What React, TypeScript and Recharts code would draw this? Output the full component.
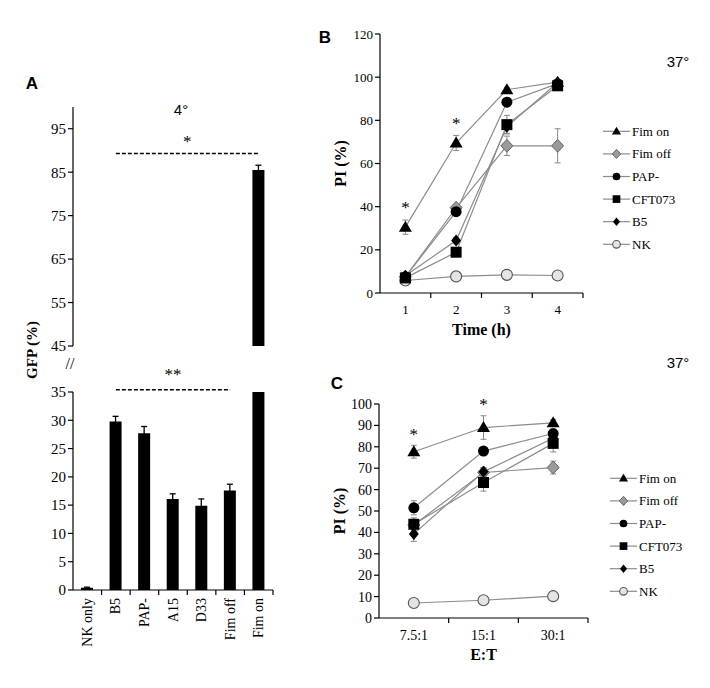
import React from "react";
import {
  BarChart,
  Bar,
  LineChart,
  Line,
  XAxis,
  YAxis,
  ErrorBar,
  ReferenceLine,
  ReferenceDot,
  Legend,
} from "recharts";

const SERIF = '"Liberation Serif", "Times New Roman", serif';
const SANS = '"Liberation Sans", Arial, sans-serif';
const TICK_SIZE = 6;
const LINE_GREY = "#8c8c8c";

// Panel A: GFP (%) at 4°
const gfpStrains = ["NK only", "B5", "PAP-", "A15", "D33", "Fim off", "Fim on"];
const gfpValues = [0.4, 29.8, 27.7, 16.1, 14.9, 17.6, 85.5];
const gfpErrors = [0.1, 0.9, 1.2, 0.9, 1.2, 1.1, 1.1];
const gfpUpperTicks = [45, 55, 65, 75, 85, 95];
const gfpLowerTicks = [0, 5, 10, 15, 20, 25, 30, 35];
const GFP_BREAK = 45;

// Panel B: PI (%) over time at 37°
const hours = [1, 2, 3, 4];
const fimOnB = [30.5, 69.5, 94.2, 97.7];
const fimOnBErr = [3.3, 3.5, 1, 0.5];
const fimOffB = [7.5, 39.5, 68.2, 68.2];
const fimOffBErr = [1, 1.5, 4.5, 7.9];
const papB = [7.5, 37.7, 88.4, 97];
const papBErr = [1, 1.5, 1.5, 1];
const cftB = [7, 18.9, 78, 96];
const cftBErr = [1, 1.5, 4.3, 1];
const b5B = [8, 24.3, 77, 97.5];
const b5BErr = [1, 1.5, 3, 1];
const nkB = [5.8, 7.7, 8.4, 8.1];
const nkBErr = [0.5, 0.5, 0.6, 0.5];
const piTicksB = [0, 20, 40, 60, 80, 100, 120];
const starsB = [
  { x: 1, y: 40 },
  { x: 2, y: 79 },
];

// Panel C: PI (%) by E:T ratio at 37°
const ratios = ["7.5:1", "15:1", "30:1"];
const fimOnC = [77.7, 89, 91.2];
const fimOnCErr = [3, 5.5, 1.5];
const fimOffC = [43.5, 68, 70.3];
const fimOffCErr = [2, 2, 3];
const papC = [51.5, 78, 86.2];
const papCErr = [3.3, 2, 2];
const cftC = [43.8, 63.3, 81.6];
const cftCErr = [3, 4, 4];
const b5C = [39.3, 68.3, 84];
const b5CErr = [3.5, 2, 2];
const nkC = [7, 8.3, 10.2];
const nkCErr = [0.5, 0.5, 0.5];
const piTicksC = [0, 10, 20, 30, 40, 50, 60, 70, 80, 90, 100];
const starsC = [
  { x: "7.5:1", y: 86 },
  { x: "15:1", y: 100 },
];

type Kind = "triangle" | "diamondGrey" | "circle" | "square" | "diamond" | "circleLight";

interface Series {
  key: string;
  name: string;
  kind: Kind;
  values: number[];
  errors: number[];
}

const seriesB: Series[] = [
  { key: "fimOn", name: "Fim on", kind: "triangle", values: fimOnB, errors: fimOnBErr },
  { key: "fimOff", name: "Fim off", kind: "diamondGrey", values: fimOffB, errors: fimOffBErr },
  { key: "pap", name: "PAP-", kind: "circle", values: papB, errors: papBErr },
  { key: "cft", name: "CFT073", kind: "square", values: cftB, errors: cftBErr },
  { key: "b5", name: "B5", kind: "diamond", values: b5B, errors: b5BErr },
  { key: "nk", name: "NK", kind: "circleLight", values: nkB, errors: nkBErr },
];

const seriesC: Series[] = [
  { key: "fimOn", name: "Fim on", kind: "triangle", values: fimOnC, errors: fimOnCErr },
  { key: "fimOff", name: "Fim off", kind: "diamondGrey", values: fimOffC, errors: fimOffCErr },
  { key: "pap", name: "PAP-", kind: "circle", values: papC, errors: papCErr },
  { key: "cft", name: "CFT073", kind: "square", values: cftC, errors: cftCErr },
  { key: "b5", name: "B5", kind: "diamond", values: b5C, errors: b5CErr },
  { key: "nk", name: "NK", kind: "circleLight", values: nkC, errors: nkCErr },
];

// drawn back to front
const drawOrder = ["fimOff", "nk", "b5", "cft", "pap", "fimOn"];

const gfpRows = gfpStrains.map((name, i) => ({
  name,
  gfp: gfpValues[i],
  gfpUpper: gfpValues[i] >= GFP_BREAK ? gfpValues[i] : null,
  gfpErr: gfpErrors[i],
}));

function buildRows(cats: (string | number)[], catKey: string, series: Series[]) {
  return cats.map((c, i) => {
    const row: Record<string, any> = { [catKey]: c };
    series.forEach((s) => {
      row[s.key] = s.values[i];
      row[`${s.key}Err`] = s.errors[i];
    });
    return row;
  });
}

const rowsB = buildRows(hours, "t", seriesB);
const rowsC = buildRows(ratios, "ratio", seriesC);

function Marker({ kind, cx, cy, s = 1 }: { kind: Kind; cx: number; cy: number; s?: number }) {
  if (cx == null || cy == null) return null;
  switch (kind) {
    case "triangle":
      return (
        <polygon
          points={`${cx},${cy - 6.5 * s} ${cx - 6.5 * s},${cy + 4.5 * s} ${cx + 6.5 * s},${cy + 4.5 * s}`}
          fill="#000"
        />
      );
    case "diamondGrey":
      return (
        <polygon
          points={`${cx},${cy - 6.5 * s} ${cx + 6 * s},${cy} ${cx},${cy + 6.5 * s} ${cx - 6 * s},${cy}`}
          fill="#9a9a9a"
          stroke="#666"
          strokeWidth={1}
        />
      );
    case "circle":
      return <circle cx={cx} cy={cy} r={5.5 * s} fill="#000" />;
    case "square":
      return <rect x={cx - 5.5 * s} y={cy - 5.5 * s} width={11 * s} height={11 * s} fill="#000" />;
    case "diamond":
      return (
        <polygon
          points={`${cx},${cy - 6 * s} ${cx + 5 * s},${cy} ${cx},${cy + 6 * s} ${cx - 5 * s},${cy}`}
          fill="#000"
        />
      );
    case "circleLight":
      return <circle cx={cx} cy={cy} r={5.5 * s} fill="#e4e4e4" stroke="#555" strokeWidth={1.1} />;
  }
  return null;
}

// category tick: label at band centre, tick mark on the band's right edge
function bandTick(fontSize: number, tickMargin: number, rotate = false) {
  return (p: any) => {
    const { x, y, payload } = p;
    const half = payload?.offset ?? 0;
    const axisY = y - TICK_SIZE - tickMargin;
    return (
      <g>
        <line x1={x + half} x2={x + half} y1={axisY} y2={axisY + 5} stroke="#000" strokeWidth={1.2} />
        {rotate ? (
          <text
            x={x}
            y={y}
            transform={`rotate(-90 ${x} ${y})`}
            textAnchor="end"
            dominantBaseline="central"
            fontFamily={SERIF}
            fontSize={fontSize}
            fill="#000"
          >
            {payload.value}
          </text>
        ) : (
          <text x={x} y={y} dy="0.71em" textAnchor="middle" fontFamily={SERIF} fontSize={fontSize} fill="#000">
            {payload.value}
          </text>
        )}
      </g>
    );
  };
}

function SeriesLegend({ items, lineW }: { items: Series[]; lineW: number }) {
  const row = 22.6;
  return (
    <svg width={110} height={items.length * row} style={{ fontFamily: SERIF }}>
      {items.map((s, i) => {
        const cy = row / 2 + i * row;
        return (
          <g key={s.key}>
            <line x1={0} x2={lineW} y1={cy} y2={cy} stroke={LINE_GREY} strokeWidth={1.2} />
            <Marker kind={s.kind} cx={lineW / 2} cy={cy} s={0.7} />
            <text x={lineW + 2} y={cy} dominantBaseline="central" fontFamily={SERIF} fontSize={13} fill="#000">
              {s.name}
            </text>
          </g>
        );
      })}
    </svg>
  );
}

function Note(props: {
  x: number;
  y: number;
  children: React.ReactNode;
  font?: string;
  size?: number;
  weight?: string;
  rotate?: boolean;
}) {
  const { x, y, children, font = SANS, size = 15, weight = "normal", rotate } = props;
  return (
    <div
      style={{
        position: "absolute",
        left: x,
        top: y,
        transform: `translate(-50%, -50%)${rotate ? " rotate(-90deg)" : ""}`,
        fontFamily: font,
        fontSize: size,
        fontWeight: weight,
        whiteSpace: "nowrap",
        lineHeight: 1,
        color: "#000",
      }}
    >
      {children}
    </div>
  );
}

const axisStyle = { stroke: "#000", strokeWidth: 1.2 };

function LinePanel({
  rows,
  catKey,
  series,
  ticks,
  domain,
  tickFont,
  tickMargin,
  xLabel,
  xAxisHeight,
  xLabelOffset,
  stars,
  legendLeft,
  legendTop,
  legendLineW,
  width,
  height,
  margin,
}: any) {
  const ordered = drawOrder.map((k) => series.find((s: Series) => s.key === k)!);
  return (
    <LineChart width={width} height={height} data={rows} margin={margin}>
      <XAxis
        dataKey={catKey}
        scale="band"
        interval={0}
        tickLine={false}
        tickSize={TICK_SIZE}
        tickMargin={tickMargin}
        axisLine={axisStyle}
        height={xAxisHeight}
        tick={bandTick(tickFont, tickMargin)}
        label={{
          value: xLabel,
          position: "insideBottom",
          offset: xLabelOffset,
          fontFamily: SERIF,
          fontWeight: "bold",
          fontSize: 16,
          fill: "#000",
        }}
      />
      <YAxis
        domain={domain}
        ticks={ticks}
        interval={0}
        width={40}
        axisLine={axisStyle}
        tickLine={axisStyle}
        tickSize={5}
        tick={{ fontSize: tickFont, fill: "#000", fontFamily: SERIF }}
        label={{
          value: "PI (%)",
          angle: -90,
          position: "insideLeft",
          offset: 0,
          fontFamily: SERIF,
          fontWeight: "bold",
          fontSize: 16,
          fill: "#000",
          style: { textAnchor: "middle" },
        }}
      />
      {ordered.map((s: Series) => (
        <Line
          key={s.key}
          dataKey={s.key}
          name={s.name}
          stroke={LINE_GREY}
          strokeWidth={1.2}
          isAnimationActive={false}
          activeDot={false}
          dot={(p: any) => (
            <g key={`${s.key}-${p.index}`}>
              <Marker kind={s.kind} cx={p.cx} cy={p.cy} />
            </g>
          )}
        >
          <ErrorBar dataKey={`${s.key}Err`} width={3} stroke="#888" strokeWidth={1} direction="y" />
        </Line>
      ))}
      {stars.map((st: any, i: number) => (
        <ReferenceDot
          key={i}
          x={st.x}
          y={st.y}
          r={0}
          fill="none"
          stroke="none"
          label={{ value: "*", position: "center", fontSize: 17, fill: "#000", fontFamily: SERIF }}
        />
      ))}
      <Legend
        layout="vertical"
        align="center"
        verticalAlign="middle"
        wrapperStyle={{ left: legendLeft, top: legendTop, width: 110 }}
        content={() => <SeriesLegend items={series} lineW={legendLineW} />}
      />
    </LineChart>
  );
}

export default function App() {
  return (
    <div
      style={{
        position: "absolute",
        left: 0,
        top: 0,
        width: 710,
        height: 688,
        background: "#fff",
        overflow: "hidden",
        fontFamily: SERIF,
      }}
    >
      {/* Panel A, upper part of the broken axis */}
      <div style={{ position: "absolute", left: 0, top: 0 }}>
        <BarChart width={300} height={360} data={gfpRows} margin={{ top: 107, right: 27, bottom: 14, left: 38 }}>
          <XAxis dataKey="name" hide />
          <YAxis
            domain={[GFP_BREAK, 100]}
            allowDataOverflow
            ticks={gfpUpperTicks}
            interval={0}
            width={35}
            axisLine={axisStyle}
            tickLine={axisStyle}
            tickSize={5}
            tick={{ fontSize: 15, fill: "#000", fontFamily: SERIF }}
          />
          <Bar dataKey="gfpUpper" fill="#000" barSize={12} isAnimationActive={false}>
            <ErrorBar dataKey="gfpErr" width={3} stroke="#000" strokeWidth={1.3} />
          </Bar>
          <ReferenceLine
            segment={[
              { x: "B5", y: 89.3 },
              { x: "Fim on", y: 89.3 },
            ]}
            stroke="#000"
            strokeWidth={1.3}
            strokeDasharray="4 2"
            label={{ value: "*", position: "top", offset: 6, fontSize: 17, fill: "#000", fontFamily: SERIF }}
          />
        </BarChart>
      </div>

      {/* Panel A, lower part of the broken axis */}
      <div style={{ position: "absolute", left: 0, top: 360 }}>
        <BarChart width={300} height={328} data={gfpRows} margin={{ top: 32, right: 27, bottom: 28, left: 38 }}>
          <XAxis
            dataKey="name"
            interval={0}
            tickLine={false}
            tickSize={TICK_SIZE}
            tickMargin={2}
            axisLine={axisStyle}
            height={70}
            tick={bandTick(14, 2, true)}
          />
          <YAxis
            domain={[0, 35]}
            allowDataOverflow
            ticks={gfpLowerTicks}
            interval={0}
            width={35}
            axisLine={axisStyle}
            tickLine={axisStyle}
            tickSize={5}
            tick={{ fontSize: 15, fill: "#000", fontFamily: SERIF }}
          />
          <Bar dataKey="gfp" fill="#000" barSize={12} isAnimationActive={false}>
            <ErrorBar dataKey="gfpErr" width={3} stroke="#000" strokeWidth={1.3} />
          </Bar>
          <ReferenceLine
            segment={[
              { x: "B5", y: 35.4 },
              { x: "Fim off", y: 35.4 },
            ]}
            ifOverflow="visible"
            stroke="#000"
            strokeWidth={1.3}
            strokeDasharray="4 2"
            label={{ value: "**", position: "top", offset: 10, fontSize: 17, fill: "#000", fontFamily: SERIF }}
          />
        </BarChart>
      </div>

      {/* Panel B */}
      <div style={{ position: "absolute", left: 300, top: 0 }}>
        <LinePanel
          rows={rowsB}
          catKey="t"
          series={seriesB}
          ticks={piTicksB}
          domain={[0, 120]}
          tickFont={13}
          tickMargin={6}
          xLabel="Time (h)"
          xAxisHeight={42}
          xLabelOffset={0}
          stars={starsB}
          legendLeft={303}
          legendTop={120}
          legendLineW={27}
          width={410}
          height={340}
          margin={{ top: 34, right: 127, bottom: 5, left: 40 }}
        />
      </div>

      {/* Panel C */}
      <div style={{ position: "absolute", left: 300, top: 340 }}>
        <LinePanel
          rows={rowsC}
          catKey="ratio"
          series={seriesC}
          ticks={piTicksC}
          domain={[0, 100]}
          tickFont={14}
          tickMargin={6}
          xLabel="E:T"
          xAxisHeight={50}
          xLabelOffset={8}
          stars={starsC}
          legendLeft={310}
          legendTop={127}
          legendLineW={27}
          width={410}
          height={348}
          margin={{ top: 64, right: 122, bottom: 20, left: 39 }}
        />
      </div>

      <Note x={32} y={83} size={17} weight="bold">A</Note>
      <Note x={325} y={37} size={17} weight="bold">B</Note>
      <Note x={337} y={383} size={17} weight="bold">C</Note>
      <Note x={181} y={109}>4°</Note>
      <Note x={678} y={61}>37°</Note>
      <Note x={678} y={362}>37°</Note>
      <Note x={32} y={350} font={SERIF} weight="bold" rotate>
        GFP (%)
      </Note>
      <Note x={70} y={364} font={SERIF} size={16}>
        //
      </Note>
    </div>
  );
}
